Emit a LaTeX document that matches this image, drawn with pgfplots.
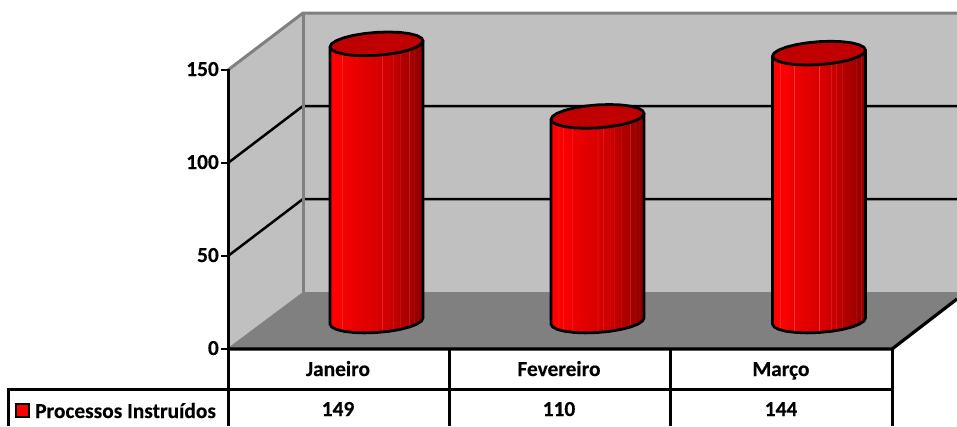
\documentclass[border=0pt]{standalone}
\usepackage{fontspec}
\setmainfont{Carlito}[BoldFeatures={FakeBold=0.25}]
\usepackage{pgfplots}
\usepackage{pgfplotstable}
\pgfplotsset{compat=1.18}

\definecolor{wallgray}{HTML}{C0C0C0}
\definecolor{floorgray}{HTML}{808080}
\definecolor{edgegray}{HTML}{808080}
\definecolor{captop}{HTML}{C00000}

% Side of the cylinder: bright at the left, dark at the right, with faint facet seams.
% The path's width covers the 25bp to 75bp part of the shading.
\pgfdeclarehorizontalshading{cylinderside}{100bp}{%
  rgb(0bp)=(1,0,0); rgb(25bp)=(1,0,0);
  rgb(28.8bp)=(1,0,0); rgb(29bp)=(1,.25,.25); rgb(29.2bp)=(1,0,0);
  rgb(31.3bp)=(.98,0,0); rgb(31.5bp)=(1,.25,.25); rgb(31.7bp)=(.98,0,0);
  rgb(36.3bp)=(.93,0,0); rgb(36.5bp)=(1,.28,.28); rgb(36.7bp)=(.93,0,0);
  rgb(49.8bp)=(.85,0,0); rgb(50bp)=(.95,.22,.22); rgb(50.2bp)=(.85,0,0);
  rgb(52.8bp)=(.83,0,0); rgb(53bp)=(.93,.22,.22); rgb(53.2bp)=(.83,0,0);
  rgb(56.3bp)=(.80,0,0); rgb(56.5bp)=(.90,.20,.20); rgb(56.7bp)=(.80,0,0);
  rgb(58.8bp)=(.77,0,0); rgb(59bp)=(.88,.20,.20); rgb(59.2bp)=(.77,0,0);
  rgb(62.3bp)=(.71,0,0); rgb(62.5bp)=(.82,.18,.18); rgb(62.7bp)=(.71,0,0);
  rgb(67.3bp)=(.65,0,0); rgb(67.5bp)=(.76,.15,.15); rgb(67.7bp)=(.65,0,0);
  rgb(69.8bp)=(.62,0,0); rgb(70bp)=(.73,.15,.15); rgb(70.2bp)=(.62,0,0);
  rgb(72.3bp)=(.58,0,0); rgb(72.5bp)=(.68,.12,.12); rgb(72.7bp)=(.58,0,0);
  rgb(75bp)=(.55,0,0); rgb(100bp)=(.55,0,0)}

% Offsets of the cylinder outline: dx in pixels, dy in value units,
% level 1 follows the bar's value and level 0 stays on the floor
\pgfplotstableread{
dx level dy
46.5 1 1.61
46.5 0 1.61
44.92 0 -0.04
40.27 0 -1.69
32.88 0 -3.23
23.25 0 -4.55
12.03 0 -5.55
0 0 -6.18
-12.03 0 -6.39
-23.25 0 -6.16
-32.88 0 -5.51
-40.27 0 -4.49
-44.92 0 -3.16
-46.5 0 -1.61
-46.5 1 -1.61
}\cylinderbody
\pgfplotstableread{
dx dy
46.5 1.61
44.92 3.16
40.27 4.49
32.88 5.51
23.25 6.16
12.03 6.39
0 6.18
-12.03 5.55
-23.25 4.55
-32.88 3.23
-40.27 1.69
-44.92 0.04
-46.5 -1.61
-44.92 -3.16
-40.27 -4.49
-32.88 -5.51
-23.25 -6.16
-12.03 -6.39
0 -6.18
12.03 -5.55
23.25 -4.55
32.88 -3.23
40.27 -1.69
44.92 -0.04
}\cylindercap

\newcommand{\cylinder}[2]{%
  \addplot[draw=black, line width=2.8pt, line join=round, shading=cylinderside]
    table[x expr=#1+\thisrow{dx}, y expr=\thisrow{level}*#2+\thisrow{dy}] {\cylinderbody} -- cycle;
  \addplot[draw=black, line width=2.8pt, line join=round, fill=captop]
    table[x expr=#1+\thisrow{dx}, y expr=#2+\thisrow{dy}] {\cylindercap} -- cycle;
}

\pgfplotsset{
  canvas/.style={
    scale only axis, width=957pt, height=426pt,
    axis lines=none, clip=false, xmin=0, xmax=957
  }
}

\begin{document}
\begin{tikzpicture}[font=\bfseries\fontsize{21.4}{24}\selectfont]
\useasboundingbox (0,0) rectangle (957pt,426pt);
% Walls, floor, scale and data table, placed on the pixel grid of the canvas
\begin{axis}[canvas, ymin=0, ymax=426, y dir=reverse]
  \addplot[fill=wallgray, draw=none] coordinates {(228,70) (303,13) (303,293) (228,349)} -- cycle;
  \addplot[fill=wallgray, draw=none] coordinates {(303,13) (957,13) (957,293) (303,293)} -- cycle;
  \addplot[fill=floorgray, draw=none] coordinates {(228,349) (303,293) (957,293) (957,299) (892,349)} -- cycle;

  % gridlines on the side and back walls
  \addplot[black, line width=2.5pt] coordinates {(228,163) (303,106) (957,106)};
  \addplot[black, line width=2.5pt] coordinates {(228,256) (303,199) (957,199)};

  % grey wall edges
  \addplot[edgegray, line width=3pt] coordinates {(228,70) (303,13) (957,13)};
  \addplot[edgegray, line width=3pt] coordinates {(303,13) (303,293)};
  \addplot[edgegray, line width=1.6pt] coordinates {(228,349) (303,293) (957,293)};

  % value axis and its ticks
  \addplot[black, line width=3pt] coordinates {(228,69) (228,426)};
  \addplot[black, line width=2.8pt] coordinates {(221,70) (228,70)};
  \addplot[black, line width=2.8pt] coordinates {(221,163) (228,163)};
  \addplot[black, line width=2.8pt] coordinates {(221,256) (228,256)};
  \addplot[black, line width=2.8pt] coordinates {(221,349) (228,349)};
  \node[anchor=base east, inner sep=0pt] at (axis cs:219,76) {150};
  \node[anchor=base east, inner sep=0pt] at (axis cs:219,169) {100};
  \node[anchor=base east, inner sep=0pt] at (axis cs:219,262) {50};
  \node[anchor=base east, inner sep=0pt] at (axis cs:219,355) {0};

  % data table rules
  \addplot[black, line width=3.2pt] coordinates {(228,349) (892,349) (957,299)};
  \addplot[black, line width=3pt] coordinates {(8,426) (8,389) (892,389)};
  \addplot[black, line width=3pt] coordinates {(449,349) (449,426)};
  \addplot[black, line width=3pt] coordinates {(670,349) (670,426)};
  \addplot[black, line width=3pt] coordinates {(892,349) (892,426)};

  % data table text
  \node[anchor=base, inner sep=0pt] at (axis cs:338,376) {Janeiro};
  \node[anchor=base, inner sep=0pt] at (axis cs:559,376) {Fevereiro};
  \node[anchor=base, inner sep=0pt] at (axis cs:781,376) {Março};
  \node[anchor=base, inner sep=0pt] at (axis cs:338,416) {149};
  \node[anchor=base, inner sep=0pt] at (axis cs:559,416) {110};
  \node[anchor=base, inner sep=0pt] at (axis cs:781,416) {144};
  \addplot[fill=red, draw=black, line width=2.6pt] coordinates {(16,404) (29,404) (29,417) (16,417)} -- cycle;
  \node[anchor=base west, inner sep=0pt] at (axis cs:35,418) {Processos Instruídos};
\end{axis}

% Cylinders: the vertical scale is in data units, 1.86 px per unit, zero at pixel row 321
\begin{axis}[canvas, ymin=-56.45, ymax=172.58]
  \cylinder{376.5}{149}
  \cylinder{597.5}{110}
  \cylinder{819}{144}
\end{axis}
\end{tikzpicture}
\end{document}
